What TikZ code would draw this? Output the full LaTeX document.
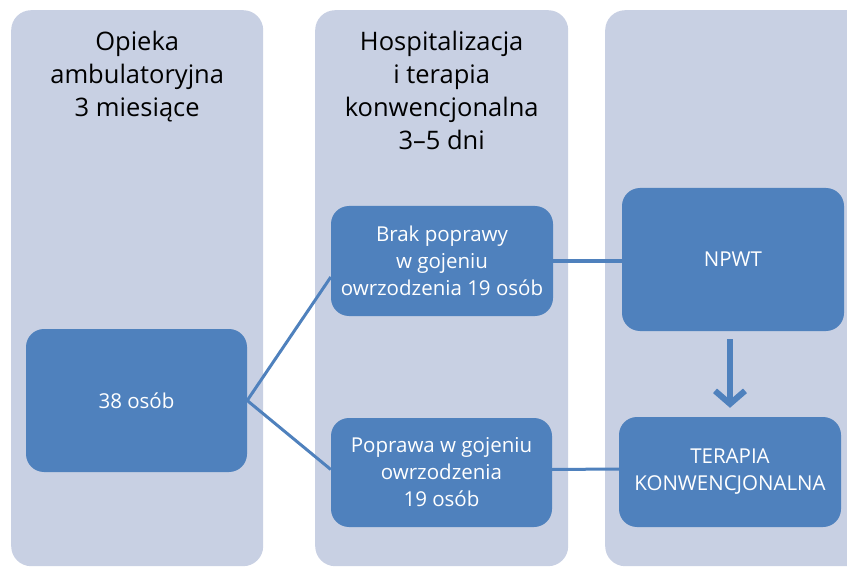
\documentclass[tikz,border=0pt]{standalone}
\usepackage{fontspec}
\setmainfont{Open Sans}
\usetikzlibrary{positioning,calc,arrows.meta}
\definecolor{colfill}{HTML}{C8D0E3}
\definecolor{boxblue}{HTML}{4F81BD}
\tikzset{
  phase col/.style={rectangle, fill=colfill, rounded corners=20pt, anchor=north west, minimum width=252pt, minimum height=556pt, inner sep=0pt},
  phase head/.style={align=center, font=\fontsize{25.5}{33}\selectfont, text=black, anchor=north},
  stage box/.style={rectangle, fill=boxblue, rounded corners=18pt, align=center, text=white, font=\fontsize{20.5}{27}\selectfont, inner sep=0pt},
  link/.style={draw=boxblue, line width=3pt}
}

\begin{document}
\begin{tikzpicture}[x=1pt, y=-1pt]
    \clip (0,0) rectangle (847,567);
    \useasboundingbox (0,0) rectangle (847,567);

    % Columns
    \node [phase col] (colA) at (11,10) {};
    \node [phase col, minimum width=253pt] (colB) at (315,10) {};
    \node [phase col, minimum width=270pt] (colC) at (605,10) {};

    % Column titles
    \node [phase head, below=18pt of colA.north] (headA) {Opieka\\ambulatoryjna\\3 miesiące};
    \node [phase head, below=18pt of colB.north] (headB) {Hospitalizacja\\i terapia\\konwencjonalna\\3–5 dni};

    % Boxes
    \node [stage box, minimum width=221pt, minimum height=143pt] (all) at (136.5,400.5) {38 osób};
    \node [stage box, minimum width=222pt, minimum height=110pt] (brak) at (442,261) {Brak poprawy\\w gojeniu\\owrzodzenia 19 osób};
    \node [stage box, minimum width=221pt, minimum height=109pt] (popr) at (441.5,472.5) {Poprawa w gojeniu\\owrzodzenia\\19 osób};
    \node [stage box, minimum width=222pt, minimum height=143pt] (npwt) at (733,259.5) {NPWT};
    \node [stage box, minimum width=222pt, minimum height=110pt] (terap) at (730,472) {TERAPIA\\KONWENCJONALNA};

    % Connections
    \draw [link] (all.east) -- ([yshift=-16pt]brak.west);
    \draw [link] (all.east) -- ([yshift=3pt]popr.west);
    \draw [link] (brak.east) -- (npwt.west |- brak.east);
    \draw [link] ([yshift=3pt]popr.east) -- ([yshift=3pt]terap.west);
    \draw [draw=boxblue, line width=6pt, -{Straight Barb[length=13pt, width=30pt]}, shorten <=8pt, shorten >=9pt] (npwt.south -| terap.north) -- (terap.north);
\end{tikzpicture}
\end{document}
